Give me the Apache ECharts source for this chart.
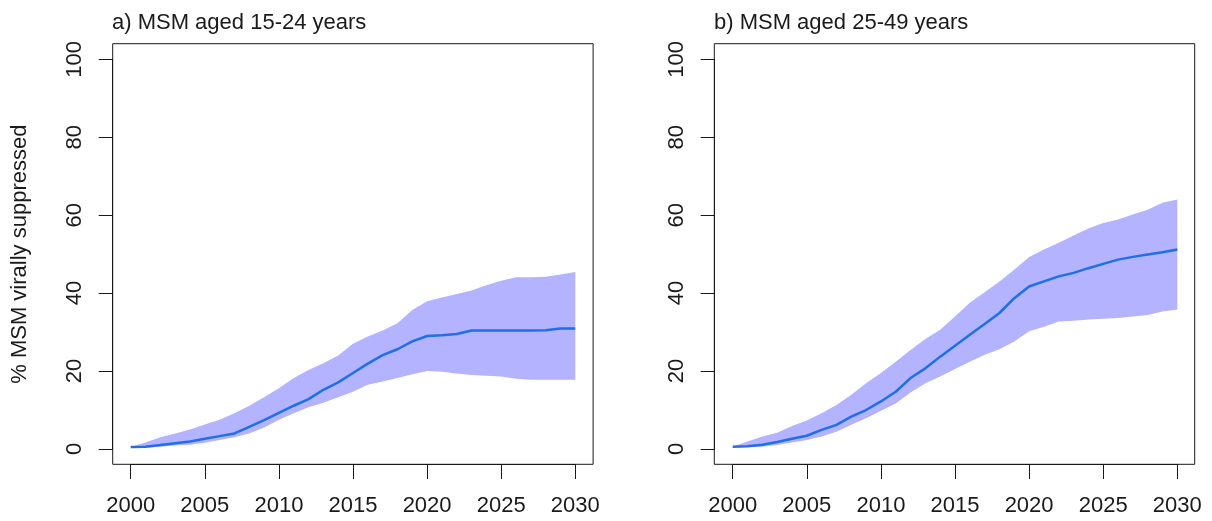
<!DOCTYPE html>
<html>
<head>
<meta charset="utf-8">
<script src="https://cdn.jsdelivr.net/npm/echarts@6/dist/echarts.min.js"></script>
<style>
html,body{margin:0;padding:0;background:#fff;}
#chart{width:1212px;height:521px;}
</style>
</head>
<body>
<div id="chart"></div>
<script>
// ---- data ----
var years = [2000,2001,2002,2003,2004,2005,2006,2007,2008,2009,2010,2011,2012,2013,2014,2015,2016,2017,2018,2019,2020,2021,2022,2023,2024,2025,2026,2027,2028,2029,2030];
var titleA = "a) MSM aged 15-24 years";
var titleB = "b) MSM aged 25-49 years";
var yAxisTitle = "% MSM virally suppressed";

// panel a) MSM aged 15-24
var medianA = [0.5,0.6,1.0,1.45,1.9,2.65,3.3,4.0,5.7,7.4,9.3,11.1,12.8,15.2,17.1,19.5,21.9,24.1,25.6,27.6,29.0,29.2,29.5,30.4,30.4,30.4,30.4,30.4,30.5,30.9,30.9];
var upperA  = [0.5,1.7,3.0,4.0,5.0,6.3,7.5,9.2,11.1,13.3,15.6,18.2,20.3,22.0,24.0,27.0,28.9,30.4,32.3,35.7,37.9,38.9,39.8,40.7,42.0,43.2,44.1,44.1,44.2,44.8,45.4];
var lowerA  = [0.5,0.4,0.6,0.9,1.1,1.6,2.3,3.0,4.0,5.5,7.5,9.2,10.7,11.9,13.3,14.7,16.5,17.3,18.2,19.2,20.0,19.8,19.4,19.0,18.8,18.6,18.0,17.8,17.8,17.8,17.8];

// panel b) MSM aged 25-49
var medianB = [0.6,0.7,1.1,1.8,2.65,3.4,4.9,6.2,8.3,10.0,12.2,14.7,18.2,20.7,23.7,26.5,29.3,32.1,34.9,38.7,41.7,43.0,44.3,45.2,46.4,47.5,48.6,49.3,49.9,50.5,51.2];
var upperB  = [0.6,1.9,3.2,4.2,5.9,7.3,9.2,11.3,13.9,16.9,19.5,22.4,25.4,28.2,30.6,34.0,37.5,40.2,43.0,46.0,49.3,51.2,52.9,54.8,56.6,58.0,58.9,60.2,61.4,63.2,64.0];
var lowerB  = [0.6,0.5,0.6,1.0,1.7,2.3,3.2,4.45,6.2,7.9,9.8,11.7,14.5,16.9,18.6,20.5,22.4,24.2,25.6,27.6,30.2,31.4,32.7,32.9,33.2,33.4,33.6,34.0,34.4,35.3,35.8];

// ---- styling ----
var FONT = "'Liberation Sans', Arial, sans-serif";
var FS = 22;
var INK = '#1a1a1a';
var BAND = '#b3b3ff';
var LINE = '#1f6fe8';

function pairs(xs, ys){ return xs.map(function(x,i){ return [x, ys[i]]; }); }
function rows(xs, lo, hi){ return xs.map(function(x,i){ return [x, lo[i], hi[i]]; }); }

var dataGrids = [
  {left:130.7, top:59.3, width:444.6, height:389.7},
  {left:732.7, top:59.3, width:444.6, height:389.7}
];
var boxGrids = [
  {left:112.7, top:43.7, width:480.4, height:420.6, show:true, borderColor:INK, borderWidth:1, backgroundColor:'transparent', z:10},
  {left:714.3, top:43.7, width:480.4, height:420.6, show:true, borderColor:INK, borderWidth:1, backgroundColor:'transparent', z:10}
];

function xAxisFor(g){
  return {
    type:'value', gridIndex:g, min:2000, max:2030, interval:5, offset:15,
    axisLine:{show:true, onZero:false, lineStyle:{color:INK, width:1}},
    axisTick:{show:true, inside:false, length:15, lineStyle:{color:INK, width:1}},
    splitLine:{show:false},
    axisLabel:{color:INK, fontFamily:FONT, fontSize:FS, margin:31, formatter:function(v){return String(v);}, showMinLabel:true, showMaxLabel:true}
  };
}
function yAxisFor(g, withName){
  var a = {
    type:'value', gridIndex:g, min:0, max:100, interval:20, offset:18,
    axisLine:{show:true, onZero:false, lineStyle:{color:INK, width:1}},
    axisTick:{show:true, inside:false, length:14, lineStyle:{color:INK, width:1}},
    splitLine:{show:false},
    axisLabel:{color:INK, fontFamily:FONT, fontSize:FS, rotate:90, margin:27, showMinLabel:true, showMaxLabel:true}
  };
  if (withName){
    a.name = yAxisTitle;
    a.nameLocation = 'middle';
    a.nameGap = 82;
    a.nameTextStyle = {color:INK, fontFamily:FONT, fontSize:FS};
  }
  return a;
}
function hiddenAxis(g){
  return {type:'value', gridIndex:g, show:false, min:0, max:1, splitLine:{show:false}};
}

function bandRenderer(lo, hi){
  return function(params, api){
    if (params.dataIndex !== 0) return null;
    var pts = [];
    for (var i = 0; i < years.length; i++) pts.push(api.coord([years[i], hi[i]]));
    for (var j = years.length - 1; j >= 0; j--) pts.push(api.coord([years[j], lo[j]]));
    return {type:'polygon', shape:{points:pts}, style:{fill:BAND, stroke:null}, silent:true};
  };
}

function panelSeries(g, median, upper, lower){
  return [
    {type:'custom', xAxisIndex:g, yAxisIndex:g, data:rows(years, lower, upper),
     encode:{x:0, y:[1,2]}, renderItem:bandRenderer(lower, upper), clip:false, silent:true, z:1},
    {type:'line', xAxisIndex:g, yAxisIndex:g, data:pairs(years, median),
     symbol:'none', lineStyle:{color:LINE, width:2.5}, clip:false, z:3}
  ];
}

var chart = echarts.init(document.getElementById('chart'), null, {renderer:'canvas'});
chart.setOption({
  animation:false,
  backgroundColor:'#ffffff',
  title:[
    {text:titleA, left:107, top:7, textStyle:{color:INK, fontFamily:FONT, fontSize:FS, fontWeight:'normal'}},
    {text:titleB, left:709, top:7, textStyle:{color:INK, fontFamily:FONT, fontSize:FS, fontWeight:'normal'}}
  ],
  grid:[dataGrids[0], dataGrids[1], boxGrids[0], boxGrids[1]],
  xAxis:[xAxisFor(0), xAxisFor(1), hiddenAxis(2), hiddenAxis(3)],
  yAxis:[yAxisFor(0,true), yAxisFor(1,false), hiddenAxis(2), hiddenAxis(3)],
  series:[].concat(panelSeries(0, medianA, upperA, lowerA), panelSeries(1, medianB, upperB, lowerB))
});
</script>
</body>
</html>
